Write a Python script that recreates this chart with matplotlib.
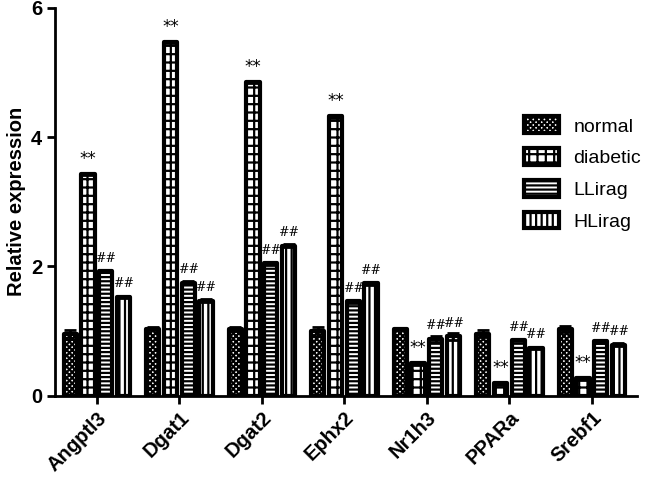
import numpy as np
import matplotlib
matplotlib.use('Agg')
import matplotlib.pyplot as plt

# data
genes = ['Angptl3', 'Dgat1', 'Dgat2', 'Ephx2', 'Nr1h3', 'PPARa', 'Srebf1']
groups = ['normal', 'diabetic', 'LLirag', 'HLirag']
normal = [0.95, 1.04, 1.03, 1.00, 1.03, 0.96, 1.03]
diabetic = [3.43, 5.47, 4.85, 4.32, 0.50, 0.19, 0.27]
llirag = [1.93, 1.75, 2.05, 1.46, 0.88, 0.86, 0.84]
hlirag = [1.53, 1.47, 2.32, 1.74, 0.92, 0.74, 0.79]
normal_err = [0.07, 0.03, 0.03, 0.07, 0.02, 0.05, 0.05]
diabetic_err = [0.02, 0.02, 0.02, 0.02, 0.02, 0.02, 0.02]
llirag_err = [0.02, 0.02, 0.02, 0.02, 0.05, 0.02, 0.02]
hlirag_err = [0.02, 0.02, 0.02, 0.02, 0.05, 0.02, 0.02]
diabetic_mark = ['**'] * 7
lirag_mark = ['##'] * 7

values = [normal, diabetic, llirag, hlirag]
errs = [normal_err, diabetic_err, llirag_err, hlirag_err]
hatches = ['xxxxxx', '++', '----', '|||']

plt.rcParams['hatch.linewidth'] = 1.6
plt.rcParams['font.family'] = ['Liberation Sans', 'DejaVu Sans']

fig = plt.figure(figsize=(6.61, 4.88), dpi=100)
ax = fig.add_axes([0.083, 0.189, 0.881, 0.795])

x = np.arange(len(genes))
step = 0.215
width = 0.16
offsets = [-1.5 * step, -0.5 * step, 0.5 * step, 1.5 * step]

for i, g in enumerate(groups):
    ax.bar(x + offsets[i], values[i], width, color='white', edgecolor='black',
           linewidth=3, hatch=hatches[i], joinstyle='round', label=g, zorder=2)
    ax.errorbar(x + offsets[i], values[i], yerr=errs[i], fmt='none', ecolor='black',
                elinewidth=2, capsize=4, capthick=2, zorder=3)

for j in range(len(genes)):
    ax.text(x[j] + offsets[1], diabetic[j] + 0.1, diabetic_mark[j], ha='center', va='bottom',
            fontsize=12, family='DejaVu Sans')
    for k in (2, 3):
        ax.text(x[j] + offsets[k], values[k][j] + 0.1, lirag_mark[j], ha='center', va='bottom',
                fontsize=9, family='DejaVu Serif')

ax.set_xlim(-0.51, 6.55)
ax.set_ylim(0, 6)
ax.set_yticks([0, 2, 4, 6])
ax.set_xticks(x)
ax.set_xticklabels(genes, rotation=45, ha='right', rotation_mode='anchor',
                   fontsize=14.5, fontweight='bold')
for lab in ax.get_yticklabels():
    lab.set_fontsize(14.5)
    lab.set_fontweight('bold')
ax.set_ylabel('Relative expression', fontsize=14.5, fontweight='bold', labelpad=4)

for s in ['top', 'right']:
    ax.spines[s].set_visible(False)
for s in ['left', 'bottom']:
    ax.spines[s].set_linewidth(2)
ax.tick_params(axis='both', width=2, length=6, pad=3)

leg = ax.legend(loc='upper left', bbox_to_anchor=(0.775, 0.765), frameon=False, fontsize=14,
                handlelength=1.8, handleheight=0.95, labelspacing=0.65, handletextpad=0.75)

fig.savefig('out.png', dpi=100)
